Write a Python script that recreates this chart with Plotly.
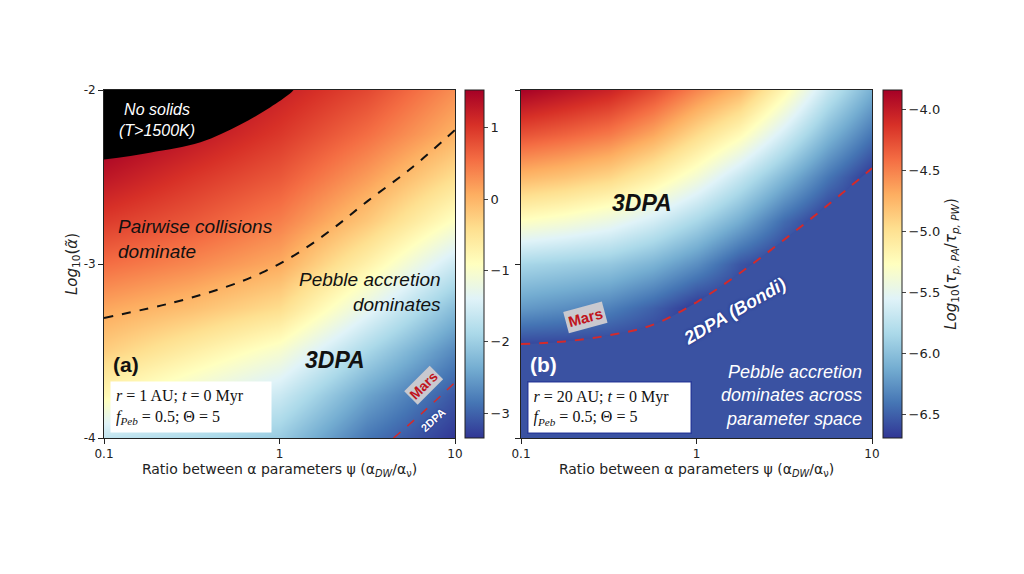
import plotly.graph_objects as go

# ---------------- data (log10 psi on x, log10 alpha on y) ----------------
grid_x_left = [-1.0, -0.5, 0.0, 0.5, 1.0]
grid_y = [-4.0, -3.75, -3.5, -3.25, -3.0, -2.75, -2.5, -2.25, -2.0]
# rows follow grid_y (bottom -> top), columns follow grid_x_left
z_left = [
    [-1.70, -1.85, -2.05, -2.85, -3.35],
    [-0.80, -1.20, -1.60, -2.45, -3.10],
    [-0.25, -0.65, -1.05, -1.90, -2.70],
    [0.12, -0.10, -0.40, -1.30, -2.20],
    [0.55, 0.35, 0.08, -0.70, -1.60],
    [0.95, 0.72, 0.42, -0.18, -0.95],
    [1.30, 1.00, 0.72, 0.20, -0.42],
    [1.60, 1.30, 0.98, 0.55, 0.02],
    [1.90, 1.55, 1.20, 0.85, 0.30],
]

grid_x_right = [-1.0, -0.75, -0.5, -0.25, 0.0, 0.25, 0.5, 0.75, 1.0]
z_right = [
    [-6.69, -6.69, -6.69, -6.69, -6.69, -6.69, -6.69, -6.69, -6.69],
    [-6.69, -6.69, -6.69, -6.69, -6.69, -6.69, -6.69, -6.69, -6.69],
    [-6.69, -6.69, -6.69, -6.69, -6.69, -6.69, -6.69, -6.69, -6.69],
    [-6.22, -6.28, -6.35, -6.50, -6.69, -6.69, -6.69, -6.69, -6.69],
    [-5.85, -5.90, -5.95, -6.08, -6.28, -6.55, -6.69, -6.69, -6.69],
    [-5.28, -5.35, -5.45, -5.62, -5.85, -6.12, -6.45, -6.69, -6.69],
    [-4.75, -4.82, -4.92, -5.12, -5.38, -5.70, -6.05, -6.40, -6.69],
    [-4.28, -4.36, -4.46, -4.66, -4.95, -5.22, -5.62, -6.05, -6.40],
    [-3.85, -3.95, -4.05, -4.25, -4.52, -4.75, -5.20, -5.70, -6.10],
]

# "No solids" boundary (left panel)
nosolid_x = [-1.0, -0.74, -0.45, -0.225, -0.054, 0.06, 0.08]
nosolid_y = [-2.40, -2.36, -2.30, -2.20, -2.10, -2.02, -2.0]

# tau_PA = tau_PW boundary (black dashed, left panel)
equal_x = [-1.0, -0.6, -0.3, -0.1, 0.1, 0.3, 0.5, 0.75, 1.0]
equal_y = [-3.31, -3.22, -3.13, -3.05, -2.94, -2.80, -2.64, -2.45, -2.23]

# Mars 3DPA/2DPA boundary, left panel
mars_left_x = [0.65, 0.82, 1.0]
mars_left_y = [-4.0, -3.85, -3.68]

# Mars 3DPA/2DPA boundary, right panel
mars_right_x = [-1.0, -0.75, -0.5, -0.25, 0.0, 0.25, 0.5, 0.75, 1.0]
mars_right_y = [-3.46, -3.445, -3.41, -3.35, -3.22, -3.05, -2.86, -2.66, -2.45]

x_tick_vals = [-1, 0, 1]
x_tick_text = ["0.1", "1", "10"]
y_tick_vals = [-4, -3, -2]
y_tick_text = ["-4", "-3", "-2"]
cb_left_vals = [-3, -2, -1, 0, 1]
cb_left_text = ["\u22123", "\u22122", "\u22121", "0", "1"]
cb_right_vals = [-6.5, -6.0, -5.5, -5.0, -4.5, -4.0]
cb_right_text = ["\u22126.5", "\u22126.0", "\u22125.5", "\u22125.0", "\u22124.5", "\u22124.0"]

# ---------------- layout constants ----------------
W, H = 1024, 574
OFF = 8  # page body margin in the browser
TOP, BOT = 90 - OFF, 438 - OFF
L1, R1 = 104 - OFF, 455 - OFF
L2, R2 = 521 - OFF, 872 - OFF
CB1, CB2 = 465 - OFF, 883 - OFF
ydom = [1 - BOT / H, 1 - TOP / H]
tickfont = dict(family="DejaVu Sans", size=12, color="#222")
cs = "RdYlBu"

fig = go.Figure()

fig.add_trace(go.Heatmap(
    x=grid_x_left, y=grid_y, z=z_left, zsmooth="best",
    colorscale=cs, reversescale=True, zmin=-3.35, zmax=1.53,
    xaxis="x", yaxis="y", hoverinfo="skip",
    colorbar=dict(x=CB1 / W, xanchor="left", y=sum(ydom) / 2, yanchor="middle",
                  len=ydom[1] - ydom[0], lenmode="fraction", thickness=19,
                  outlinewidth=1, outlinecolor="#222", xpad=0, ypad=0,
                  tickvals=cb_left_vals, ticktext=cb_left_text,
                  ticks="outside", ticklen=4, tickfont=dict(family="DejaVu Sans", size=13, color="#222")),
))

fig.add_trace(go.Heatmap(
    x=grid_x_right, y=grid_y, z=z_right, zsmooth="best",
    colorscale=cs, reversescale=True, zmin=-6.69, zmax=-3.84,
    xaxis="x2", yaxis="y2", hoverinfo="skip",
    colorbar=dict(x=CB2 / W, xanchor="left", y=sum(ydom) / 2, yanchor="middle",
                  len=ydom[1] - ydom[0], lenmode="fraction", thickness=19,
                  outlinewidth=1, outlinecolor="#222", xpad=0, ypad=0,
                  tickvals=cb_right_vals, ticktext=cb_right_text,
                  ticks="outside", ticklen=4, tickfont=dict(family="DejaVu Sans", size=13, color="#222"),
                  title=dict(text="<i>Log</i><sub>10</sub>(<i>τ</i><sub><i>p, PA</i></sub>/<i>τ</i><sub><i>p, PW</i></sub>)",
                             side="right", font=dict(family="DejaVu Sans", size=15, color="#222"))),
))

# black "no solids" region
fig.add_trace(go.Scatter(x=nosolid_x, y=[max(nosolid_y)] * len(nosolid_x), mode="lines",
                         line=dict(width=0), xaxis="x", yaxis="y", hoverinfo="skip"))
fig.add_trace(go.Scatter(x=nosolid_x, y=nosolid_y, mode="lines", line=dict(width=0, shape="spline"),
                         fill="tonexty", fillcolor="black", xaxis="x", yaxis="y", hoverinfo="skip"))

# flat 2DPA region, right panel
fig.add_trace(go.Scatter(x=mars_right_x, y=[min(grid_y)] * len(mars_right_x), mode="lines",
                         line=dict(width=0), xaxis="x2", yaxis="y2", hoverinfo="skip"))
fig.add_trace(go.Scatter(x=mars_right_x, y=mars_right_y, mode="lines", line=dict(width=0, shape="spline"),
                         fill="tonexty", fillcolor="#3a52a2", xaxis="x2", yaxis="y2", hoverinfo="skip"))

# boundaries
fig.add_trace(go.Scatter(x=equal_x, y=equal_y, mode="lines",
                         line=dict(color="#111", width=2, dash="dash", shape="spline"),
                         xaxis="x", yaxis="y", hoverinfo="skip"))
fig.add_trace(go.Scatter(x=mars_left_x, y=mars_left_y, mode="lines",
                         line=dict(color="#d42a2a", width=1.5, dash="dash", shape="spline"),
                         xaxis="x", yaxis="y", hoverinfo="skip"))
fig.add_trace(go.Scatter(x=mars_right_x, y=mars_right_y, mode="lines",
                         line=dict(color="#d42a2a", width=2, dash="dash", shape="spline"),
                         xaxis="x2", yaxis="y2", hoverinfo="skip"))

axis_common = dict(range=[-1, 1], tickvals=x_tick_vals, ticktext=x_tick_text, ticks="outside",
                   ticklen=5, tickcolor="#222", showline=True, linecolor="#222", linewidth=1,
                   mirror=True, showgrid=False, zeroline=False, tickfont=tickfont, automargin=False)
xtitle = "Ratio between α parameters ψ (α<sub><i>DW</i></sub>/α<sub>ν</sub>)"
yaxis_common = dict(range=[-4, -2], tickvals=y_tick_vals, ticktext=y_tick_text, ticks="outside",
                    ticklen=5, tickcolor="#222", showline=True, linecolor="#222", linewidth=1,
                    mirror=True, showgrid=False, zeroline=False, tickfont=tickfont, domain=ydom,
                    automargin=False)

fig.update_layout(
    width=W, height=574, margin=dict(l=0, r=0, t=0, b=0, autoexpand=False),
    paper_bgcolor="white", plot_bgcolor="white", showlegend=False,
    xaxis=dict(axis_common, domain=[L1 / W, R1 / W], anchor="y",
               title=dict(text=xtitle, font=dict(family="DejaVu Sans", size=14, color="#222"), standoff=0)),
    yaxis=dict(yaxis_common, anchor="x",
               title=dict(text="<i>Log</i><sub>10</sub>(<i>α̃</i>)", font=dict(family="DejaVu Sans", size=15, color="#222"), standoff=2)),
    xaxis2=dict(axis_common, domain=[L2 / W, R2 / W], anchor="y2",
                title=dict(text=xtitle, font=dict(family="DejaVu Sans", size=14, color="#222"), standoff=0)),
    yaxis2=dict(yaxis_common, anchor="x2", showticklabels=False),
)

SANS = "Liberation Sans"
SERIF = "Liberation Serif"


def ann(text, x, y, xref, yref, **kw):
    d = dict(text=text, x=x, y=y, xref=xref, yref=yref, showarrow=False)
    d.update(kw)
    fig.add_annotation(**d)


# left panel
ann("<i>No solids<br>(T>1500K)</i>", -0.70, -2.17, "x", "y",
    font=dict(family=SANS, size=16, color="white", shadow="0px 0px 2px #000"))
ann("<i>Pairwise collisions<br>dominate</i>", -0.93, -2.856, "x", "y", xanchor="left", align="left",
    font=dict(family=SANS, size=19, color="#111"))
ann("<i>Pebble accretion<br>dominates</i>", 0.932, -3.161, "x", "y", xanchor="right", align="right",
    font=dict(family=SANS, size=19, color="#111"))
ann("<b><i>3DPA</i></b>", 0.316, -3.552, "x", "y", font=dict(family=SANS, size=23, color="#111"))
ann("<b>(a)</b>", -0.875, -3.58, "x", "y", font=dict(family=SANS, size=21, color="#111"))
ann("<i>r</i> = 1 AU; <i>t</i> = 0 Myr<br><i>f</i><sub><i>Peb</i></sub> = 0.5; Θ = 5", -0.966, -3.822, "x", "y",
    xanchor="left", align="left", bgcolor="white", borderpad=5, width=150,
    font=dict(family=SERIF, size=16, color="#111"))
ann("<b>Mars</b>", 0.823, -3.695, "x", "y", textangle=-45, bgcolor="#c9c9cf", borderpad=1,
    font=dict(family=SANS, size=14, color="#c0141c"))
ann("<b>2DPA</b>", 0.875, -3.897, "x", "y", textangle=-42,
    font=dict(family=SANS, size=11, color="white", shadow="0px 0px 2px #1a2a80"))

# right panel
ann("<b><i>3DPA</i></b>", -0.311, -2.649, "x2", "y2", font=dict(family=SANS, size=23, color="#111"))
ann("<b>Mars</b>", -0.635, -3.31, "x2", "y2", textangle=-15, bgcolor="#c9c9cf", borderpad=2,
    font=dict(family=SANS, size=15, color="#c0141c"))
ann("<b><i>2DPA (Bondi)</i></b>", 0.219, -3.27, "x2", "y2", textangle=-30,
    font=dict(family=SANS, size=18, color="white", shadow="0px 0px 3px #1a2a80"))
ann("<b>(b)</b>", -0.869, -3.58, "x2", "y2", font=dict(family=SANS, size=21, color="white"))
ann("<i>r</i> = 20 AU; <i>t</i> = 0 Myr<br><i>f</i><sub><i>Peb</i></sub> = 0.5; Θ = 5", -0.966, -3.822, "x2", "y2",
    xanchor="left", align="left", bgcolor="white", bordercolor="#2a3d9a", borderwidth=1.5, borderpad=5, width=152,
    font=dict(family=SERIF, size=16, color="#111"))
ann("<i>Pebble accretion<br>dominates across<br>parameter space</i>", 0.954, -3.753, "x2", "y2",
    xanchor="right", align="right", font=dict(family=SANS, size=18, color="white"))

fig.write_html("out.html")
